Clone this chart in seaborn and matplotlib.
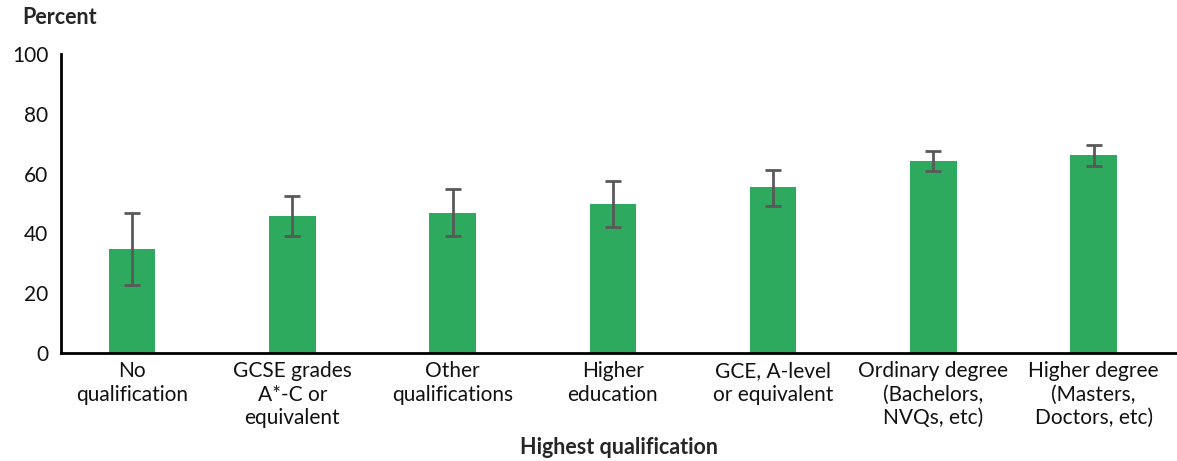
import matplotlib
matplotlib.use("Agg")
import matplotlib.pyplot as plt
import seaborn as sns
import numpy as np

# data
categories = ["No\nqualification", "GCSE grades\nA*-C or\nequivalent", "Other\nqualifications",
              "Higher\neducation", "GCE, A-level\nor equivalent", "Ordinary degree\n(Bachelors,\nNVQs, etc)",
              "Higher degree\n(Masters,\nDoctors, etc)"]
percent = [34.8, 45.8, 46.8, 49.8, 55.5, 64.2, 66.2]
err_low = [22.7, 39.1, 39.1, 42.1, 49.2, 60.9, 62.6]
err_high = [46.9, 52.6, 54.8, 57.5, 61.3, 67.5, 69.7]

sns.set_style("white")
plt.rcParams['font.family'] = ['Lato', 'DejaVu Sans']

fig = plt.figure(figsize=(11.77, 4.61), dpi=100)
ax = fig.add_axes([61 / 1177, 1 - 353 / 461, 1 - 61 / 1177, (353 - 54) / 461])

sns.barplot(x=categories, y=percent, color="#2EAA5E", saturation=1, width=0.29,
            edgecolor="none", linewidth=0, ax=ax)

pos = np.arange(len(categories))
yerr = [np.array(percent) - np.array(err_low), np.array(err_high) - np.array(percent)]
ax.errorbar(pos, percent, yerr=yerr, fmt="none", ecolor="#595959", elinewidth=2,
            capsize=5.5, capthick=2)

ax.set_ylim(0, 100)
ax.set_yticks([0, 20, 40, 60, 80, 100])
ax.set_xlim(-0.443, 6.52)
ax.tick_params(axis="both", length=0, labelsize=15, colors="#111111")
ax.tick_params(axis="y", pad=9)
ax.tick_params(axis="x", pad=6)
for lab in ax.get_xticklabels():
    lab.set_linespacing(1.2)

for s in ["top", "right"]:
    ax.spines[s].set_visible(False)
for s in ["left", "bottom"]:
    ax.spines[s].set_color("black")
    ax.spines[s].set_linewidth(2)

ax.set_xlabel("Highest qualification", fontsize=15.5, fontweight="bold", labelpad=7)
ax.set_ylabel("")
fig.text(22 / 1177, 1 - 18 / 461, "Percent", fontsize=15.5, fontweight="bold", va="center")

fig.savefig("out.png", dpi=100)
